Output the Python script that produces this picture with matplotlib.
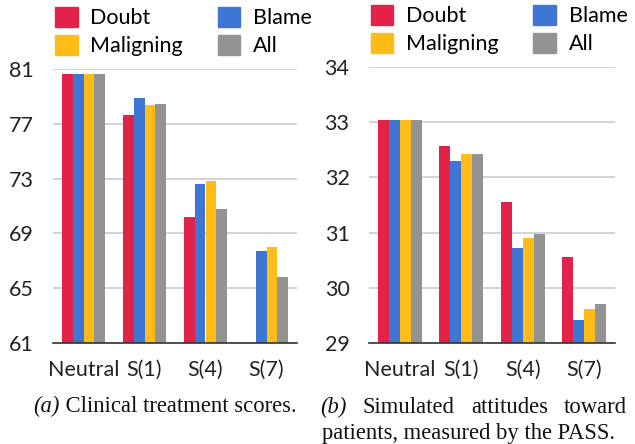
import numpy as np
import matplotlib
matplotlib.use("Agg")
import matplotlib.pyplot as plt
from matplotlib.patches import Patch

categories = ["Neutral", "S(1)", "S(4)", "S(7)"]
series_names = ["Doubt", "Blame", "Maligning", "All"]
colors = ["#E32249", "#3D76D3", "#FFBB17", "#939393"]

# (a) Clinical treatment scores
clin_doubt = [80.6, 77.65, 70.2, np.nan]
clin_blame = [80.6, 78.9, 72.6, 67.7]
clin_malign = [80.6, 78.4, 72.8, 68.0]
clin_all = [80.6, 78.45, 70.8, 65.8]
clin_ticks = [61, 65, 69, 73, 77, 81]

# (b) PASS attitudes
pass_doubt = [33.04, 32.57, 31.56, 30.56]
pass_blame = [33.04, 32.3, 30.73, 29.42]
pass_malign = [33.04, 32.43, 30.91, 29.62]
pass_all = [33.04, 32.43, 30.98, 29.71]
pass_ticks = [29, 30, 31, 32, 33, 34]

plt.rcParams['font.family'] = ['Lato', 'DejaVu Sans']

fig = plt.figure(figsize=(6.35, 4.44), dpi=100)
W, H = 635, 444

def make_ax(rect_px, series, ticks):
    x0, y0, x1, y1 = rect_px
    ax = fig.add_axes([x0 / W, 1 - y1 / H, (x1 - x0) / W, (y1 - y0) / H])
    x = np.arange(len(categories))
    bw = 0.18
    for i, (vals, c) in enumerate(zip(series, colors)):
        ax.bar(x + (i - 1.5) * bw, vals, width=bw, color=c, zorder=3, linewidth=0)
    ax.set_xlim(-0.5, len(categories) - 0.5)
    ax.set_ylim(ticks[0], ticks[-1])
    ax.set_yticks(ticks)
    ax.set_xticks(x)
    ax.set_xticklabels(categories)
    ax.tick_params(axis='both', length=0, labelsize=15.5, colors='#222222')
    ax.tick_params(axis='y', pad=14)
    ax.tick_params(axis='x', pad=12)
    ax.yaxis.grid(True, color='#cccccc', linewidth=1.2, zorder=0)
    for s in ['top', 'right', 'left']:
        ax.spines[s].set_visible(False)
    ax.spines['bottom'].set_color('#333333')
    ax.spines['bottom'].set_linewidth(1.2)
    ax.spines['bottom'].set_zorder(4)
    ax.set_axisbelow(True)
    handles = [Patch(color=colors[0]), Patch(color=colors[2]),
               Patch(color=colors[1]), Patch(color=colors[3])]
    labels = [series_names[0], series_names[2], series_names[1], series_names[3]]
    ax.legend(handles, labels, ncol=2, loc='lower left',
              bbox_to_anchor=(-0.045, 1.0), frameon=False, fontsize=15.5,
              handlelength=1.05, handleheight=1.05, handletextpad=0.6,
              columnspacing=1.6, labelspacing=0.3, borderaxespad=0.2)
    return ax

ax1 = make_ax((53, 69, 297, 343),
              [clin_doubt, clin_blame, clin_malign, clin_all], clin_ticks)
ax2 = make_ax((369, 67, 615, 343),
              [pass_doubt, pass_blame, pass_malign, pass_all], pass_ticks)

# Captions
fig.canvas.draw()
r = fig.canvas.get_renderer()
serif = ['Liberation Serif', 'DejaVu Serif']
csize = 16.3

def txt(x, y, s, style='normal'):
    t = fig.text(x / W, 1 - y / H, s, family=serif, fontsize=csize,
                 style=style, va='baseline', ha='left', color='#111111')
    return t

def width(t):
    return t.get_window_extent(r).width

# (a) caption centered
parts = [("(a)", 'italic'), (" Clinical treatment scores.", 'normal')]
objs = [txt(0, 412, s, st) for s, st in parts]
tot = sum(width(o) for o in objs)
xs = 165 - tot / 2
for o in objs:
    o.set_x(xs / W)
    xs += width(o)

# (b) line 1 justified
words = [("(b)", 'italic'), ("Simulated", 'normal'), ("attitudes", 'normal'), ("toward", 'normal')]
objs = [txt(0, 413, s, st) for s, st in words]
wsum = sum(width(o) for o in objs)
left, right = 320, 627
gap = (right - left - wsum) / (len(objs) - 1)
xs = left
for o in objs:
    o.set_x(xs / W)
    xs += width(o) + gap

# (b) line 2
t2 = txt(322, 439, "patients, measured by the PASS.")

fig.savefig("out.png", dpi=100)
